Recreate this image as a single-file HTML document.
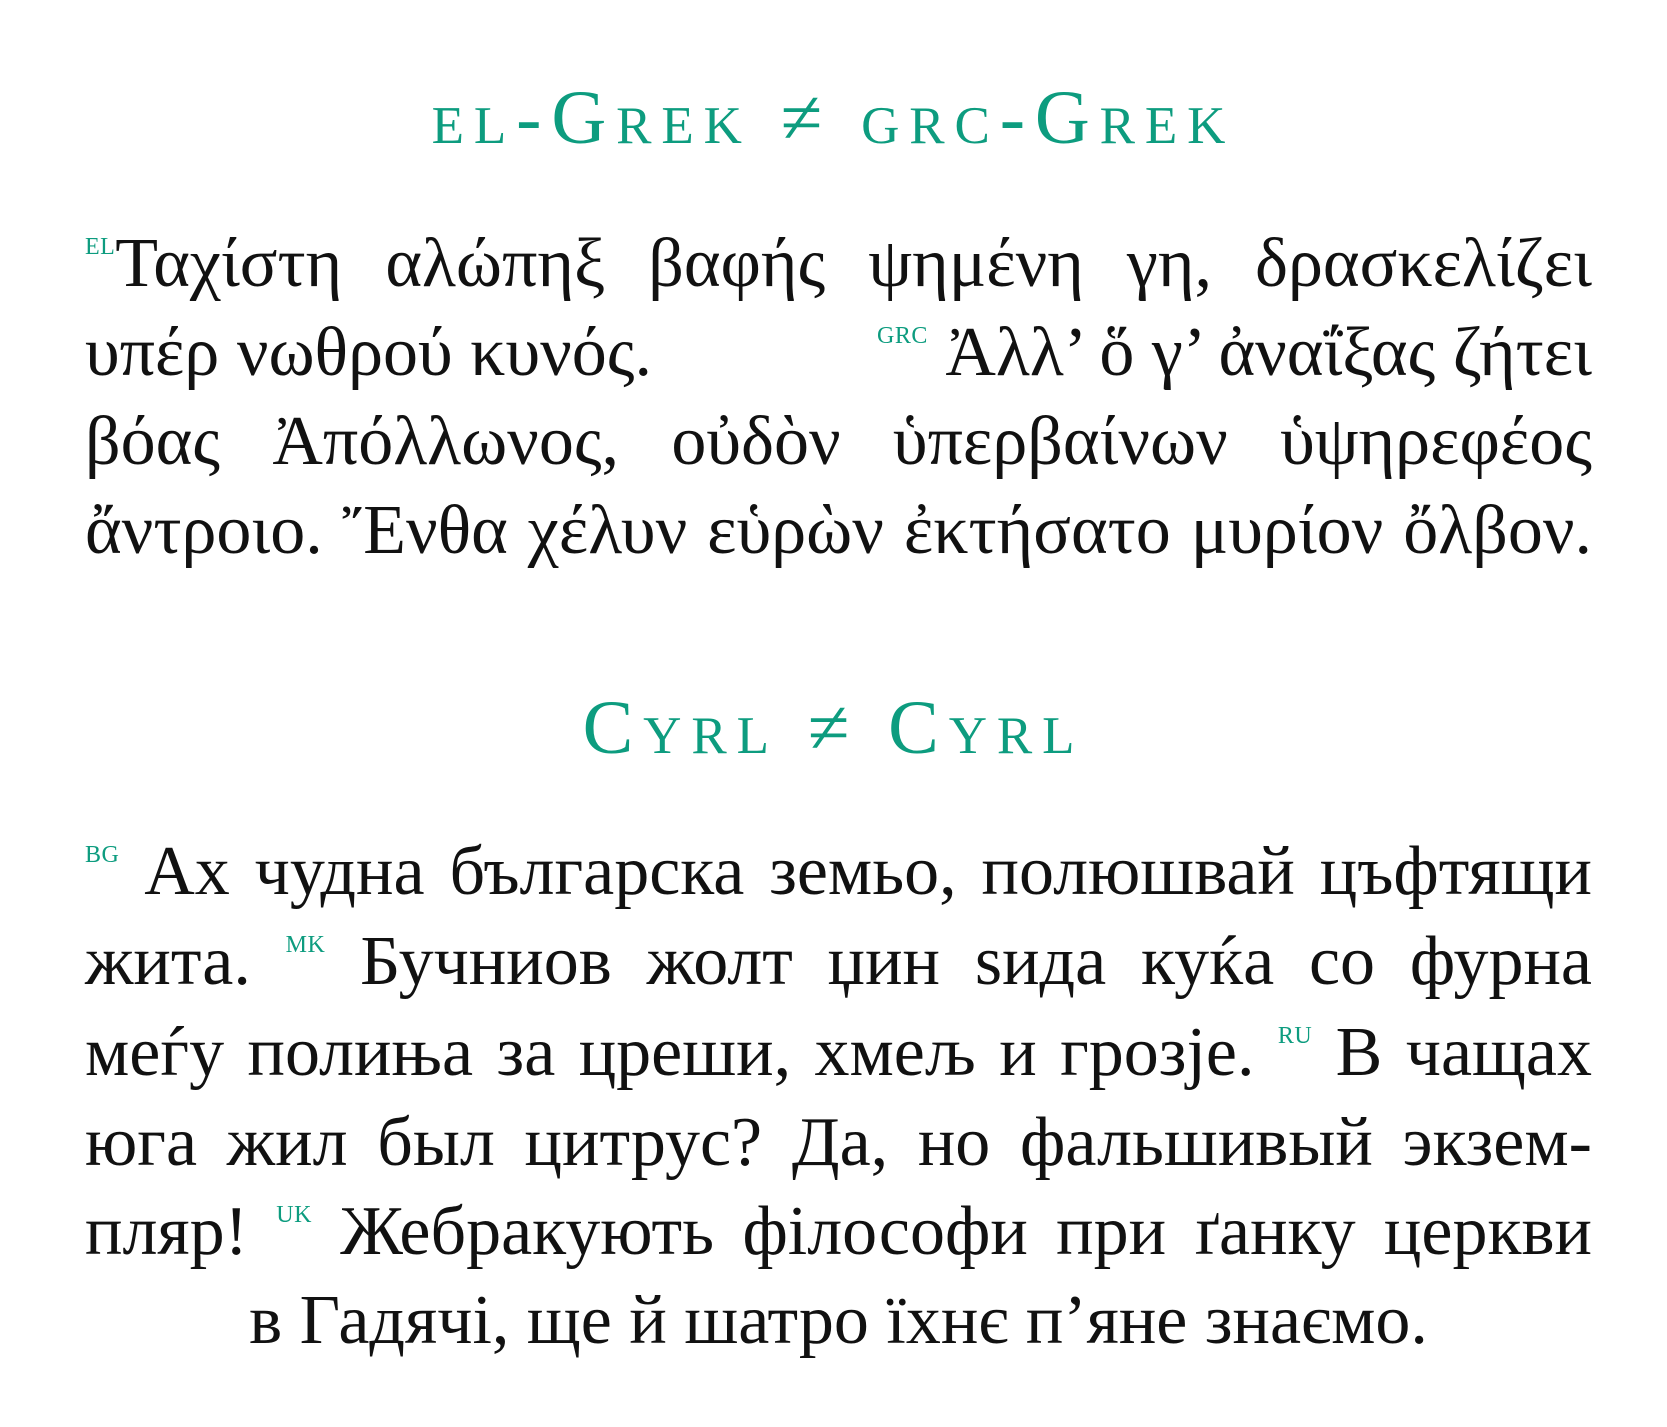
<!DOCTYPE html>
<html><head><meta charset="utf-8"><style>
html,body{margin:0;padding:0;background:#fff;}
body{width:1667px;height:1427px;position:relative;overflow:hidden;font-family:"Liberation Serif","DejaVu Serif",serif;color:#111;}
.h{position:absolute;left:0;width:1667px;text-align:center;color:#0d9c7f;font-size:76px;line-height:normal;font-variant:small-caps;letter-spacing:0.13em;white-space:nowrap;}
.l{position:absolute;left:85px;width:1507px;font-size:70px;line-height:normal;white-space:nowrap;text-align:justify;text-align-last:justify;}
.s{color:#0d9c7f;font-size:24px;vertical-align:32px;letter-spacing:0.02em;}
.f{display:flex;justify-content:space-between;}
</style></head><body>
<div class="h" style="top:75px">el-Grek ≠ grc-Grek</div>
<div class="l" style="top:224px"><span class="s">EL</span>Ταχίστη αλώπηξ βαφής ψημένη γη, δρασκελίζει</div>
<div class="l f" style="top:313px"><span>υπέρ νωθρού κυνός.</span><span><span class="s">GRC</span> Ἀλλ’ ὅ γ’ ἀναΐξας ζήτει</span></div>
<div class="l" style="top:402px">βόας Ἀπόλλωνος, οὐδὸν ὑπερβαίνων ὑψηρεφέος</div>
<div class="l" style="top:491px">ἄντροιο. Ἔνθα χέλυν εὑρὼν ἐκτήσατο μυρίον ὄλβον.</div>
<div class="h" style="top:685px">Cyrl ≠ Cyrl</div>
<div class="l" style="top:832px"><span class="s">BG</span> Ах чудна българска земьо, полюшвай цъфтящи</div>
<div class="l" style="top:922px">жита. <span class="s">MK</span> Бучниов жолт џин ѕида куќа со фурна</div>
<div class="l" style="top:1013px">меѓу полиња за цреши, хмељ и грозје. <span class="s">RU</span> В чащах</div>
<div class="l" style="top:1103px">юга жил был цитрус? Да, но фальшивый экзем-</div>
<div class="l" style="top:1192px">пляр! <span class="s">UK</span> Жебракують філософи при ґанку церкви</div>
<div class="l" style="top:1281px;text-align:center;text-align-last:center;">в Гадячі, ще й шатро їхнє п’яне знаємо.</div>
</body></html>
